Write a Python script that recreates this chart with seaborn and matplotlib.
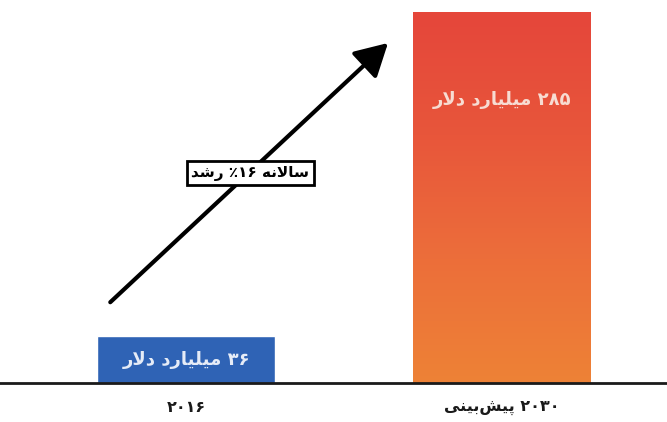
import numpy as np
import matplotlib
matplotlib.use("Agg")
import matplotlib.pyplot as plt
import seaborn as sns
from matplotlib.colors import LinearSegmentedColormap

# ---- data (logical Persian text) ----
categories = ["۲۰۱۶", "پیش‌بینی ۲۰۳۰"]
values = [36, 285]
bar_labels = ["۳۶ میلیارد دلار", "۲۸۵ میلیارد دلار"]
growth_label = "سالانه ۱۶٪ رشد"
bar_colors = ["#2F63B5", "#E9603B"]

# ---- minimal Arabic-script shaping (matplotlib has no complex text layout) ----
FORMS = {  # isolated, final, initial, medial
    'ا': ('\uFE8D', '\uFE8E', None, None),
    'ب': ('\uFE8F', '\uFE90', '\uFE91', '\uFE92'),
    'پ': ('\uFB56', '\uFB57', '\uFB58', '\uFB59'),
    'ی': ('\uFBFC', '\uFBFD', '\uFBFE', '\uFBFF'),
    'ش': ('\uFEB5', '\uFEB6', '\uFEB7', '\uFEB8'),
    'ن': ('\uFEE5', '\uFEE6', '\uFEE7', '\uFEE8'),
    'م': ('\uFEE1', '\uFEE2', '\uFEE3', '\uFEE4'),
    'ل': ('\uFEDD', '\uFEDE', '\uFEDF', '\uFEE0'),
    'ر': ('\uFEAD', '\uFEAE', None, None),
    'د': ('\uFEA9', '\uFEAA', None, None),
    'س': ('\uFEB1', '\uFEB2', '\uFEB3', '\uFEB4'),
    'ه': ('\uFEE9', '\uFEEA', '\uFEEB', '\uFEEC'),
    'LA': ('\uFEFB', '\uFEFC', None, None),
}
DIGITS = set('۰۱۲۳۴۵۶۷۸۹0123456789')


def shape(s):
    chars = []
    i = 0
    while i < len(s):
        if s[i] == 'ل' and i + 1 < len(s) and s[i + 1] == 'ا':
            chars.append('LA')
            i += 2
        else:
            chars.append(s[i])
            i += 1
    out = []
    for k, c in enumerate(chars):
        if c not in FORMS:
            if c != '\u200c':
                out.append(c)
            continue
        f = FORMS[c]
        prev = chars[k - 1] if k > 0 else None
        nxt = chars[k + 1] if k + 1 < len(chars) else None
        jp = prev in FORMS and FORMS[prev][2] is not None
        jn = f[2] is not None and nxt in FORMS
        if jp and jn:
            g = f[3]
        elif jp:
            g = f[1]
        elif jn:
            g = f[2]
        else:
            g = f[0]
        out.append(g)
    return ''.join(out)


def visual(s, rtl=True):
    if not rtl:
        words = []
        for w in s.split(' '):
            sw = shape(w)
            if any(ch in DIGITS for ch in sw):
                words.append(sw)
            else:
                words.append(sw[::-1])
        return ' '.join(words)
    shaped = shape(s)
    runs = []
    for ch in shaped:
        isd = ch in DIGITS
        if runs and runs[-1][0] == isd:
            runs[-1][1].append(ch)
        else:
            runs.append([isd, [ch]])
    parts = []
    for isd, chs in runs[::-1]:
        parts.append(''.join(chs) if isd else ''.join(chs[::-1]))
    return ''.join(parts)


# ---- figure ----
sns.set_style("white")
plt.rcParams['font.family'] = ['DejaVu Sans']

fig = plt.figure(figsize=(6.67, 4.22), dpi=100)
ax = fig.add_axes([0, 39 / 422, 1, 383 / 422])

sns.barplot(x=categories, y=values, hue=categories, palette=bar_colors,
            legend=False, width=0.563, ax=ax, saturation=1)

# gradient on forecast bar
patch = ax.patches[1]
x0, y0 = patch.get_x(), patch.get_y()
x1, y1 = x0 + patch.get_width(), y0 + patch.get_height()
cmap = LinearSegmentedColormap.from_list(
    "g", ["#EE8236", "#EC6E3A", "#E8563B", "#E5463A"])
grad = np.linspace(0, 1, 256).reshape(-1, 1)
im = ax.imshow(grad, extent=[x0, x1, y0, y1], origin='lower', aspect='auto',
               cmap=cmap, zorder=patch.get_zorder() + 0.1)
im.set_clip_path(patch)

ax.set_xlim(-0.589, 1.522)
ax.set_ylim(0, 294)

# bar value labels
ax.text(0, values[0] / 2, visual(bar_labels[0]), ha='center', va='center',
        fontsize=13, fontweight='bold', color='#E6ECF7', zorder=5)
ax.text(1, values[1] - 68, visual(bar_labels[1]), ha='center', va='center',
        fontsize=13, fontweight='bold', color='#F7DCD2', zorder=5)

# growth arrow
ax.annotate("", xy=(0.639, 261), xytext=(-0.24, 62),
            arrowprops=dict(arrowstyle='-|>,head_length=0.9,head_width=0.5',
                            lw=3, color='black', mutation_scale=22,
                            shrinkA=0, shrinkB=0), zorder=4)
ax.text(0.203, 161, visual(growth_label), ha='center', va='center',
        fontsize=11, fontweight='bold', color='black', zorder=6,
        bbox=dict(boxstyle='square,pad=0.3', fc='white', ec='black', lw=2))

# axes styling
for sp in ['top', 'left', 'right']:
    ax.spines[sp].set_visible(False)
ax.spines['bottom'].set_color('#1a1a1a')
ax.spines['bottom'].set_linewidth(2)
ax.set_yticks([])
ax.set_xticks([0, 1])
ax.set_xticklabels([visual(categories[0]), visual(categories[1], rtl=False)],
                   fontsize=11.5, fontweight='bold', color='#1a1a1a')
ax.tick_params(axis='x', length=0, pad=12)
ax.set_xlabel("")
ax.set_ylabel("")

fig.savefig("out.png", dpi=100)
